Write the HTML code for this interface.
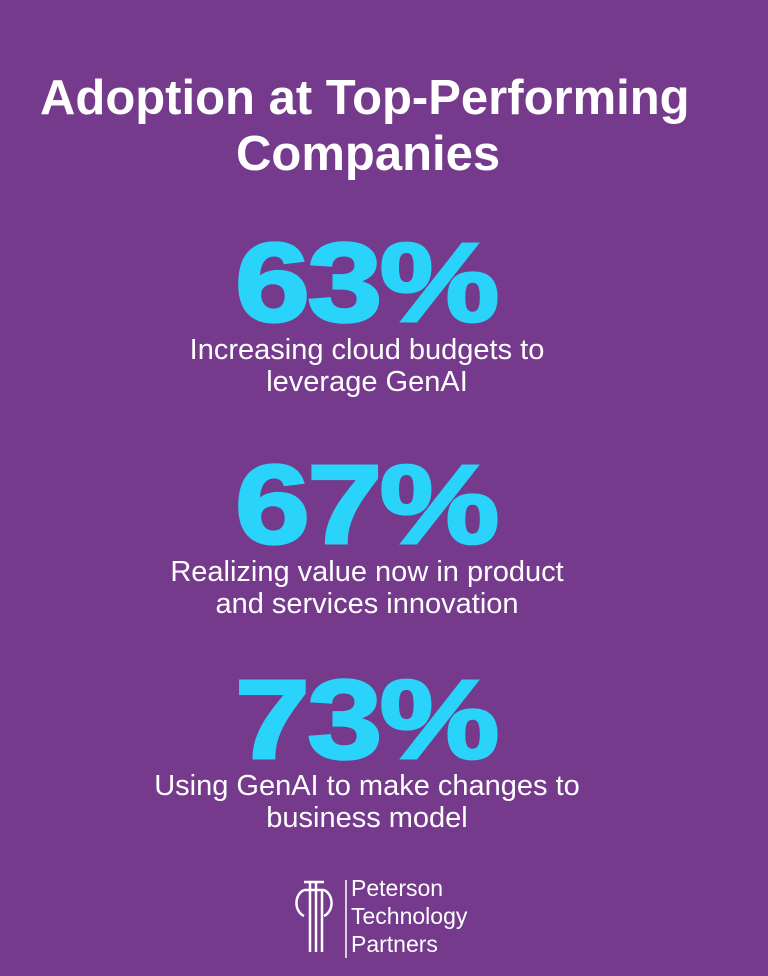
<!DOCTYPE html>
<html><head><style>
html,body{margin:0;padding:0}
body{width:768px;height:976px;background:#753a8c;position:relative;overflow:hidden;font-family:"Liberation Sans",sans-serif;color:#fff}
.t{position:absolute;top:70px;font-size:49px;font-weight:bold;line-height:56px;white-space:nowrap}
.n{position:absolute;left:-18px;width:768px;text-align:center;font-size:112px;font-weight:bold;color:#29d3f9;line-height:112px;transform:scaleX(1.2);letter-spacing:-2px;-webkit-text-stroke:3px #29d3f9}
.d{position:absolute;left:0;width:734px;text-align:center;font-size:29px;line-height:32px;white-space:nowrap}
</style></head><body>
<div class="t" style="left:40px">Adoption at Top-Performing</div>
<div class="t" style="left:236px;top:126px">Companies</div>
<div class="n" style="top:227px">63%</div>
<div class="d" style="top:334px">Increasing cloud budgets to<br>leverage GenAI</div>
<div class="n" style="top:449px">67%</div>
<div class="d" style="top:556px">Realizing value now in product<br>and services innovation</div>
<div class="n" style="top:664px">73%</div>
<div class="d" style="top:770px">Using GenAI to make changes to<br>business model</div>
<svg style="position:absolute;left:290px;top:878px" width="60" height="82" viewBox="0 0 60 82">
<g stroke="#fff" fill="none" stroke-width="2.5">
<line x1="14" y1="4" x2="34" y2="4"/>
<path d="M14 12 A12 14 0 0 0 14 38"/>
<path d="M34 12 A12 14 0 0 1 34 38"/>
<line x1="14" y1="12" x2="34" y2="12"/>
<line x1="20" y1="4" x2="20" y2="74"/>
<line x1="26" y1="4" x2="26" y2="74"/>
<line x1="32" y1="12" x2="32" y2="74"/>
<line x1="56" y1="2" x2="56" y2="80" stroke-width="1.5"/>
</g></svg>
<div style="position:absolute;left:351px;top:874px;font-size:23px;line-height:28px">Peterson<br>Technology<br>Partners</div>
</body></html>
